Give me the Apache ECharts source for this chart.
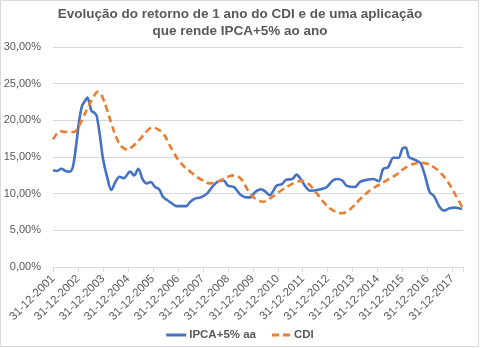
<!DOCTYPE html>
<html>
<head>
<meta charset="utf-8">
<script src="https://cdn.jsdelivr.net/npm/echarts@6/dist/echarts.min.js"></script>
<style>
html,body{margin:0;padding:0;background:#fff;}
#c{width:480px;height:348px;}
</style>
</head>
<body>
<div id="c"></div>
<script>
// months counted from 31-12-2001
var ipcaMonths = [0,2,4,6,8,9.5,11,12.5,14,15.5,16.5,17.5,18.5,20,21,22.5,24,26,28,30,32,34,37,39,41,43,45,47,49,51,53,55,57,59.5,64,66,68,71,74,77,79,81,82,84,87,90,93,95,97,100,102,104,107.5,110,112,115,117,119,121,123.5,127,131.5,134,136.5,139,141,145,147.5,151,154,156.5,158.7,161,163.5,166,168,169.5,171,174,176.5,178.5,181,183,185.5,188,190.5,193,196.5];
var ipcaValues = [13.2,13.1,13.4,13.1,13.0,13.6,16.3,19.8,22.0,22.7,23.1,22.3,21.3,21.0,20.6,18.0,14.8,12.3,10.5,11.6,12.3,12.1,13.0,12.5,13.4,12.0,11.4,11.6,10.9,10.6,9.5,9.1,8.7,8.3,8.3,8.9,9.3,9.5,10.0,11.1,11.6,11.8,11.8,11.1,10.9,9.9,9.5,9.5,10.2,10.6,10.3,9.8,11.1,11.3,11.9,12.0,12.6,12.0,11.1,10.4,10.5,10.9,11.7,12.0,11.8,11.1,10.9,11.6,11.9,12.0,11.7,13.4,13.6,14.9,14.9,16.2,16.3,15.0,14.6,14.2,12.7,10.2,9.7,8.3,7.7,8.0,8.1,7.9];
var cdiMonths = [0,2,4,7,10,12,14.5,17,19.5,21.5,23.5,26,28,30.5,33,35.5,38.5,42,45,47.5,49.5,53,55.5,58,60,63,66,69,72,75,78.5,82,85,87.5,90,92,94,96,98.5,101,104,107,110,114,117,119.5,122,124,126,128,130.5,133,136,138.5,141,144,147,150,153,156,159,162,165,168,171,174,177,180,183,186,189,191.5,194,197];
var cdiValues = [17.4,18.2,18.5,18.4,18.4,19.0,20.4,21.9,23.2,23.9,23.3,21.4,19.6,17.6,16.4,16.0,16.5,17.5,18.5,19.0,18.9,18.2,16.9,15.6,14.7,13.7,13.0,12.3,11.8,11.4,11.6,12.0,12.4,12.5,12.1,11.3,10.3,9.6,9.1,8.9,9.3,9.9,10.5,11.2,11.6,11.75,11.5,11.0,10.3,9.6,8.7,8.0,7.5,7.35,7.5,8.2,9.1,9.9,10.6,11.1,11.6,12.1,12.6,13.3,13.8,14.1,14.2,14.05,13.6,12.9,11.9,10.8,9.5,8.0];
var firstYear = 2001;
var yTicks = [0,5,10,15,20,25,30];
var seriesNames = ['IPCA+5% aa','CDI'];
var titleLines = ['Evolução do retorno de 1 ano do CDI e de uma aplicação','que rende IPCA+5% ao ano'];

function pairs(xs, ys){ return xs.map(function(x,i){ return [x, ys[i]]; }); }

var chart = echarts.init(document.getElementById('c'));
var txt = '#595959';
var font = '"Liberation Sans", Arial, sans-serif';
chart.setOption({
  animation:false,
  backgroundColor:'#fff',
  textStyle:{fontFamily:font},
  title:{
    text: titleLines.join('\n'),
    left:'center', top:1,
    textStyle:{fontSize:13.5, fontWeight:'bold', color:txt, lineHeight:17, fontFamily:font}
  },
  legend:{
    bottom:2, left:'center',
    itemWidth:20, itemHeight:3, itemGap:16,
    textStyle:{fontSize:11.5, color:txt, fontFamily:font, fontWeight:'bold', padding:[0,0,0,-2]},
    data: [
      {name:seriesNames[0], icon:'rect', itemStyle:{color:'#4472C4'}},
      {name:seriesNames[1], icon:'path://M0,0h7v3h-7z M11,0h7v3h-7z', itemStyle:{color:'#ED7D31'}}
    ]
  },
  grid:{left:53, right:17, top:47, bottom:81, containLabel:false},
  xAxis:{
    type:'value', min:0, max:197, interval:12,
    axisLine:{show:true, lineStyle:{color:'#d9d9d9'}},
    axisTick:{show:true, length:5, lineStyle:{color:'#d9d9d9'}},
    splitLine:{show:false},
    axisLabel:{
      rotate:45, fontSize:11.5, color:txt, margin:10, fontFamily:font,
      formatter:function(v){ if (v % 12 !== 0) return ''; return '31-12-' + (firstYear + v/12); }
    }
  },
  yAxis:{
    type:'value', min:yTicks[0], max:yTicks[yTicks.length-1], interval:5,
    axisLine:{show:false}, axisTick:{show:false},
    splitLine:{lineStyle:{color:'#d9d9d9'}},
    axisLabel:{fontSize:11, color:txt, margin:12, fontFamily:font,
      formatter:function(v){ return v.toFixed(2).replace('.',',') + '%'; }}
  },
  graphic:[{type:'rect', shape:{x:0.5,y:0.5,width:478,height:346}, style:{fill:null, stroke:'#d9d9d9', lineWidth:1}, silent:true}],
  series:[
    {name:seriesNames[0], type:'line', data:pairs(ipcaMonths, ipcaValues), showSymbol:false, symbol:'none', smooth:0.3,
     lineStyle:{color:'#4472C4', width:2.6}, itemStyle:{color:'#4472C4'}},
    {name:seriesNames[1], type:'line', data:pairs(cdiMonths, cdiValues), showSymbol:false, symbol:'none', smooth:0.4,
     lineStyle:{color:'#ED7D31', width:2.6, type:[7,4]}, itemStyle:{color:'#ED7D31'}}
  ]
});
</script>
</body>
</html>
